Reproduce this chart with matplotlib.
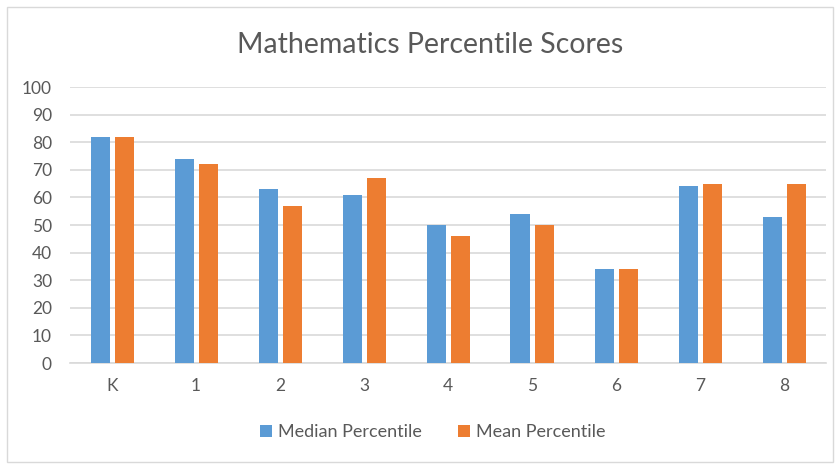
import matplotlib.pyplot as plt
from matplotlib.patches import Rectangle
import numpy as np

categories = ["K", "1", "2", "3", "4", "5", "6", "7", "8"]
median_percentile = [82, 74, 63, 61, 50, 54, 34, 64, 53]
mean_percentile = [82, 72, 57, 67, 46, 50, 34, 65, 65]

plt.rcParams["font.family"] = ["Lato", "DejaVu Sans"]
text_color = "#595959"
grid_color = "#d9d9d9"

fig = plt.figure(figsize=(8.4, 4.69), dpi=100)
ax = fig.add_axes([70 / 840, 1 - 363 / 469, 756 / 840, 276 / 469])

x = np.arange(len(categories))
width = 19 / 84
offset = 12 / 84
ax.bar(x - offset, median_percentile, width, color="#5b9bd5", label="Median Percentile", zorder=3)
ax.bar(x + offset, mean_percentile, width, color="#ed7d31", label="Mean Percentile", zorder=3)

ax.set_xlim(-0.5, len(categories) - 0.5)
ax.set_ylim(0, 100)
ax.set_yticks(range(0, 101, 10))
ax.set_xticks(x)
ax.set_xticklabels(categories)
ax.grid(axis="y", color=grid_color, linewidth=1.2, zorder=0)
for side in ["top", "right", "left"]:
    ax.spines[side].set_visible(False)
ax.spines["bottom"].set_color(grid_color)
ax.spines["bottom"].set_linewidth(1.2)
ax.tick_params(length=0, labelsize=12.5, colors=text_color)
ax.tick_params(axis="y", pad=13)
ax.tick_params(axis="x", pad=11)

fig.text(430 / 840, 1 - 45 / 469, "Mathematics Percentile Scores", ha="center", va="center",
         fontsize=20.5, color=text_color)

fig.legend(loc="center", bbox_to_anchor=(433 / 840, 1 - 432 / 469), ncol=2, frameon=False,
           fontsize=13, labelcolor=text_color, handlelength=0.65, handleheight=0.65,
           columnspacing=2.0, handletextpad=0.35)

# chart border
fig.patches.append(Rectangle((7 / 840, 7 / 469), 826 / 840, 455 / 469, transform=fig.transFigure,
                             fill=False, edgecolor=grid_color, linewidth=1))

fig.savefig("out.png", dpi=100, facecolor="white")
